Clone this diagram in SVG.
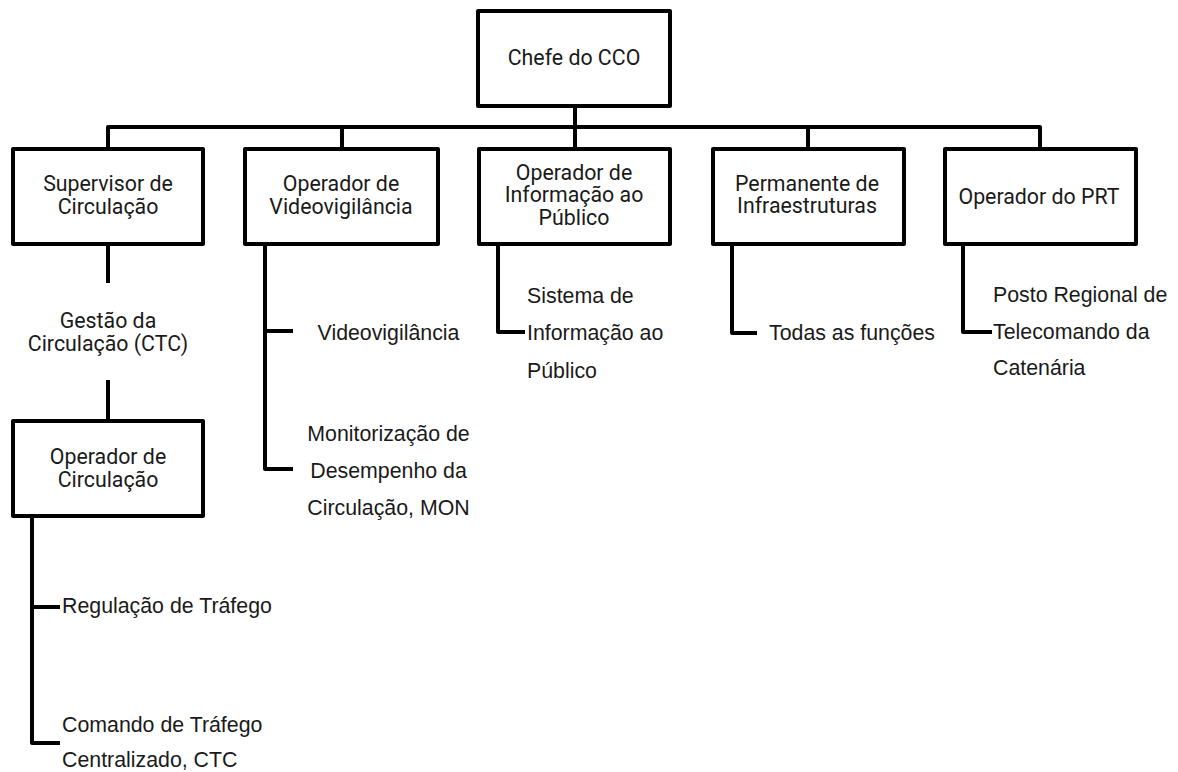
<svg xmlns="http://www.w3.org/2000/svg" width="1178" height="772" viewBox="0 0 1178 772">
<style>
.box{fill:#fff;stroke:#000;stroke-width:4;stroke-linejoin:round}
.ln{fill:none;stroke:#000;stroke-width:4;stroke-linejoin:round}
.bl{font-family:Roboto,"Liberation Sans",sans-serif;font-size:21.33px;fill:#1a1a1a;text-anchor:middle}
.it{font-family:"Liberation Sans",Arial,sans-serif;font-size:21.33px;fill:#1a1a1a}
.c{text-anchor:middle}
</style>
<rect width="1178" height="772" fill="#fff"/>
<g id="connectors">
<path class="ln" d="M575 108V127M108 147V127H1040V147M342 127V147M575 127V147M808 127V147"/>
<path class="ln" d="M108 246V283M108 380V419"/>
<path class="ln" d="M32 518V743H60M32 607H60"/>
<path class="ln" d="M265 246V469H293M265 331H293"/>
<path class="ln" d="M498 245V332H525"/>
<path class="ln" d="M732 245V333H757"/>
<path class="ln" d="M963 246V332H992"/>
</g>
<g id="chefe"><rect class="box" x="478" y="11" width="192" height="95"/><text class="bl" x="574" y="65">Chefe do CCO</text></g>
<g id="supervisor"><rect class="box" x="13" y="149" width="190" height="95"/><text class="bl" x="108" y="190.5">Supervisor de</text><text class="bl" x="108" y="213.5">Circulação</text></g>
<g id="opvideo"><rect class="box" x="245" y="149" width="193" height="95"/><text class="bl" x="341" y="190.5">Operador de</text><text class="bl" x="341" y="213.5">Videovigilância</text></g>
<g id="opinfo"><rect class="box" x="479" y="149" width="191" height="95"/><text class="bl" x="574" y="179.5">Operador de</text><text class="bl" x="574" y="202">Informação ao</text><text class="bl" x="574" y="224.5">Público</text></g>
<g id="permanente"><rect class="box" x="713" y="149" width="191" height="95"/><text class="bl" x="807" y="191">Permanente de</text><text class="bl" x="807" y="213">Infraestruturas</text></g>
<g id="opprt"><rect class="box" x="945" y="149" width="191" height="95"/><text class="bl" x="1039" y="203.5">Operador do PRT</text></g>
<g id="gestao"><text class="bl" x="108" y="328">Gestão da</text><text class="bl" x="108" y="351">Circulação (CTC)</text></g>
<g id="opcirc"><rect class="box" x="13" y="421" width="190" height="95"/><text class="bl" x="108" y="463.5">Operador de</text><text class="bl" x="108" y="486.5">Circulação</text></g>
<g id="regulacao"><text class="it" x="62" y="613">Regulação de Tráfego</text></g>
<g id="comando"><text class="it" x="62" y="732">Comando de Tráfego</text><text class="it" x="62" y="767">Centralizado, CTC</text></g>
<g id="videovigilancia"><text class="it c" x="388.5" y="340">Videovigilância</text></g>
<g id="monitorizacao"><text class="it c" x="388.5" y="440.5">Monitorização de</text><text class="it c" x="388.5" y="477.5">Desempenho da</text><text class="it c" x="388.5" y="514.5">Circulação, MON</text></g>
<g id="sistema"><text class="it" x="527" y="303">Sistema de</text><text class="it" x="527" y="340">Informação ao</text><text class="it" x="527" y="377.5">Público</text></g>
<g id="todas"><text class="it" x="769" y="340">Todas as funções</text></g>
<g id="posto"><text class="it" x="993" y="302">Posto Regional de</text><text class="it" x="993" y="338.5">Telecomando da</text><text class="it" x="993" y="375">Catenária</text></g>
</svg>
